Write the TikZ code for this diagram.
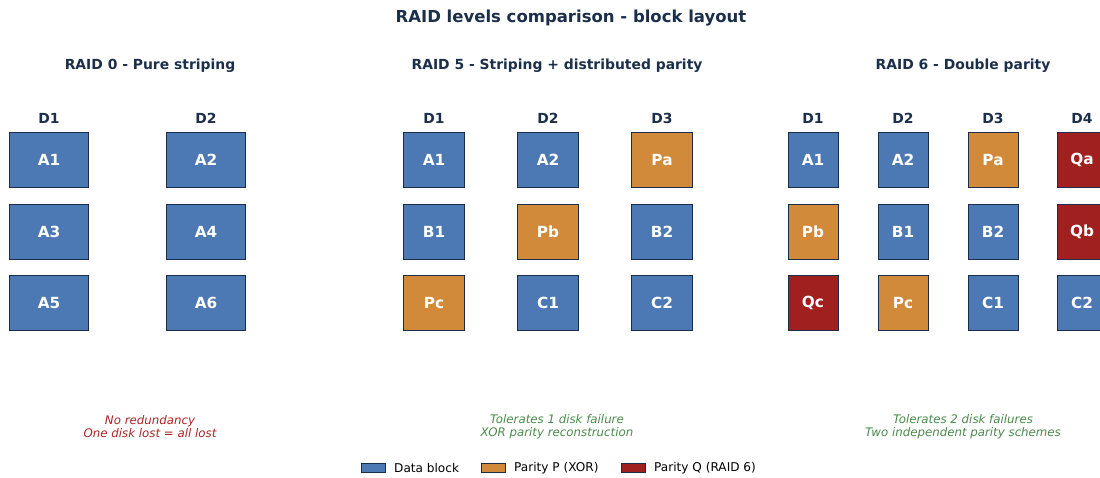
\documentclass[tikz,border=0pt]{standalone}
\usepackage{fontspec}
\setmainfont{DejaVu Sans}
\begin{document}
\begin{tikzpicture}[x=1pt,y=-1pt,
  navy/.style={text=navyc},
  blk/.style={draw=edgec,line width=1pt,minimum height=55pt,text=white,font=\fontsize{15.3}{18}\selectfont\bfseries,inner sep=0pt},
  dat/.style={blk,fill=datac},
  par/.style={blk,fill=parc},
  qpar/.style={blk,fill=qc},
  w0/.style={minimum width=79pt},
  w5/.style={minimum width=61pt},
  w6/.style={minimum width=50pt},
  title/.style={text=navyc,font=\fontsize{16.5}{20}\selectfont\bfseries},
  sub/.style={text=navyc,font=\fontsize{13.9}{17}\selectfont\bfseries},
  disk/.style={text=navyc,font=\fontsize{13.9}{17}\selectfont\bfseries},
  note/.style={font=\fontsize{11.8}{13}\selectfont\itshape,align=center},
  leg/.style={draw=edgec,line width=1pt,minimum width=24pt,minimum height=9pt,inner sep=0pt},
  legt/.style={font=\fontsize{12.1}{15}\selectfont,anchor=west,inner sep=0pt}
]
\definecolor{navyc}{HTML}{1B2E4A}
\definecolor{edgec}{HTML}{1A2E4A}
\definecolor{datac}{HTML}{4C78B4}
\definecolor{parc}{HTML}{D08A3A}
\definecolor{qc}{HTML}{A02020}
\definecolor{redt}{HTML}{A82424}
\definecolor{greent}{HTML}{4A8A4A}
\useasboundingbox (0,0) rectangle (1100,477);
\clip (0,0) rectangle (1100,477);

\node[title] (t) at (571,18) {RAID levels comparison - block layout};
\node[sub] (s0) at (150,66) {RAID 0 - Pure striping};
\node[sub] (s5) at (557,66) {RAID 5 - Striping + distributed parity};
\node[sub] (s6) at (963,66) {RAID 6 - Double parity};

% RAID 0
\node[disk] (r0d1) at (49,118) {D1};
\node[disk] (r0d2) at (206,118) {D2};
\node[dat,w0] (r0a1) at (49,160) {A1};
\node[dat,w0] (r0a2) at (206,160) {A2};
\node[dat,w0] (r0a3) at (49,232) {A3};
\node[dat,w0] (r0a4) at (206,232) {A4};
\node[dat,w0] (r0a5) at (49,303) {A5};
\node[dat,w0] (r0a6) at (206,303) {A6};

% RAID 5
\node[disk] (r5d1) at (434,118) {D1};
\node[disk] (r5d2) at (548,118) {D2};
\node[disk] (r5d3) at (662,118) {D3};
\node[dat,w5] (r5a1) at (434,160) {A1};
\node[dat,w5] (r5a2) at (548,160) {A2};
\node[par,w5] (r5pa) at (662,160) {Pa};
\node[dat,w5] (r5b1) at (434,232) {B1};
\node[par,w5] (r5pb) at (548,232) {Pb};
\node[dat,w5] (r5b2) at (662,232) {B2};
\node[par,w5] (r5pc) at (434,303) {Pc};
\node[dat,w5] (r5c1) at (548,303) {C1};
\node[dat,w5] (r5c2) at (662,303) {C2};

% RAID 6
\node[disk] (r6d1) at (813,118) {D1};
\node[disk] (r6d2) at (903,118) {D2};
\node[disk] (r6d3) at (993,118) {D3};
\node[disk] (r6d4) at (1082,118) {D4};
\node[dat,w6] (r6a1) at (813,160) {A1};
\node[dat,w6] (r6a2) at (903,160) {A2};
\node[par,w6] (r6pa) at (993,160) {Pa};
\node[qpar,w6] (r6qa) at (1082,160) {Qa};
\node[par,w6] (r6pb) at (813,232) {Pb};
\node[dat,w6] (r6b1) at (903,232) {B1};
\node[dat,w6] (r6b2) at (993,232) {B2};
\node[qpar,w6] (r6qb) at (1082,232) {Qb};
\node[qpar,w6] (r6qc) at (813,303) {Qc};
\node[par,w6] (r6pc) at (903,303) {Pc};
\node[dat,w6] (r6c1) at (993,303) {C1};
\node[dat,w6] (r6c2) at (1082,303) {C2};

% notes
\node[note,text=redt] (n0) at (150,427) {No redundancy\\One disk lost = all lost};
\node[note,text=greent] (n5) at (557,427) {Tolerates 1 disk failure\\XOR parity reconstruction};
\node[note,text=greent] (n6) at (963,427) {Tolerates 2 disk failures\\Two independent parity schemes};

% legend
\node[leg,fill=datac] (l1) at (373,468) {};
\node[legt] (l1t) at (394,468) {Data block};
\node[leg,fill=parc] (l2) at (493,468) {};
\node[legt] (l2t) at (514,468) {Parity P (XOR)};
\node[leg,fill=qc] (l3) at (633,468) {};
\node[legt] (l3t) at (654,468) {Parity Q (RAID 6)};
\end{tikzpicture}
\end{document}
